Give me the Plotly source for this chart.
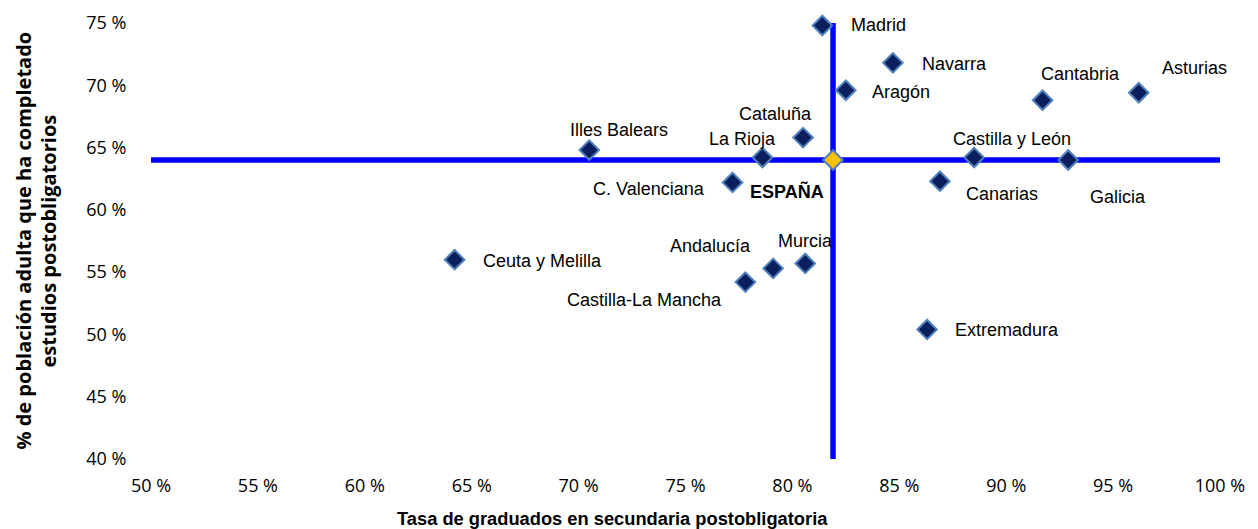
import plotly.graph_objects as go

# ---------------- data ----------------
REGIONS = ["Madrid", "Navarra", "Aragón", "Cantabria", "Asturias", "Cataluña",
           "Illes Balears", "La Rioja", "Castilla y León", "Galicia",
           "C. Valenciana", "Canarias", "Ceuta y Melilla", "Murcia",
           "Andalucía", "Castilla-La Mancha", "Extremadura"]
GRADUADOS = [81.4, 84.7, 82.5, 91.7, 96.2, 80.5, 70.5, 78.6, 88.5, 92.9,
             77.2, 86.9, 64.2, 80.6, 79.1, 77.8, 86.3]
POBLACION = [74.8, 71.8, 69.6, 68.8, 69.4, 65.8, 64.8, 64.2, 64.2, 64.0,
             62.2, 62.3, 56.0, 55.7, 55.3, 54.2, 50.4]
ESP_NAME = "ESPAÑA"
ESP_X = 81.9
ESP_Y = 64.0

X_TICKS = [50, 55, 60, 65, 70, 75, 80, 85, 90, 95, 100]
Y_TICKS = [40, 45, 50, 55, 60, 65, 70, 75]
X_TICKTEXT = [f"{v} %" for v in X_TICKS]
Y_TICKTEXT = [f"{v} %" for v in Y_TICKS]

X_TITLE = "Tasa de graduados en secundaria postobligatoria"
Y_TITLE_1 = "% de población adulta que ha completado"
Y_TITLE_2 = "estudios postobligatorios"

# label placement (anchor, x shift px, y shift px) -- styling only
LABEL_POS = {
    "Madrid": ("left", 27, 0),
    "Navarra": ("left", 27, -1),
    "Aragón": ("left", 24, -2),
    "Cantabria": ("center", 38, 26),
    "Asturias": ("center", 56, 25),
    "Cataluña": ("right", 11, 24),
    "Illes Balears": ("center", 30, 20),
    "La Rioja": ("right", 16, 19),
    "Castilla y León": ("center", 38, 19),
    "Galicia": ("left", 20, -37),
    "C. Valenciana": ("right", -26, -7),
    "Canarias": ("left", 24, -13),
    "Ceuta y Melilla": ("left", 26, -1),
    "Murcia": ("center", 0, 22),
    "Andalucía": ("right", -20, 22),
    "Castilla-La Mancha": ("right", -21, -18),
    "Extremadura": ("left", 26, -1),
    "ESPAÑA": ("right", -7, -31),
}

LABEL_FONT = "Liberation Sans, Arial, sans-serif"
TICK_FONT = "Open Sans, sans-serif"

fig = go.Figure()

# reference lines through the national value
fig.add_trace(go.Scatter(x=[ESP_X, ESP_X], y=[Y_TICKS[0], Y_TICKS[-1]], mode="lines",
                         line=dict(color="#0000FF", width=5.5), hoverinfo="skip",
                         cliponaxis=False, showlegend=False))
fig.add_trace(go.Scatter(x=[X_TICKS[0], X_TICKS[-1]], y=[ESP_Y, ESP_Y], mode="lines",
                         line=dict(color="#0000FF", width=5.5), hoverinfo="skip",
                         cliponaxis=False, showlegend=False))

fig.add_trace(go.Scatter(x=GRADUADOS, y=POBLACION, mode="markers", text=REGIONS,
                         marker=dict(symbol="diamond", size=15, color="#0A1F5C",
                                     line=dict(color="#4F81BD", width=2)),
                         cliponaxis=False, showlegend=False))
fig.add_trace(go.Scatter(x=[ESP_X], y=[ESP_Y], mode="markers", text=[ESP_NAME],
                         marker=dict(symbol="diamond", size=15, color="#FFC000",
                                     line=dict(color="#4F81BD", width=2)),
                         cliponaxis=False, showlegend=False))

annotations = []
for name, gx, py in zip(REGIONS + [ESP_NAME], GRADUADOS + [ESP_X], POBLACION + [ESP_Y]):
    anchor, dx, dy = LABEL_POS[name]
    txt = f"<b>{name}</b>" if name == ESP_NAME else name
    annotations.append(dict(x=gx, y=py, xref="x", yref="y", text=txt, showarrow=False,
                            xanchor=anchor, yanchor="middle", xshift=dx, yshift=dy,
                            font=dict(family=LABEL_FONT, size=18, color="#000000")))

annotations.append(dict(x=0.4313, y=-0.1376, xref="paper", yref="paper", text=f"<b>{X_TITLE}</b>",
                        showarrow=False, xanchor="center", yanchor="middle",
                        font=dict(family=LABEL_FONT, size=18.3, color="#000000")))
annotations.append(dict(x=-0.1202, y=0.5, xref="paper", yref="paper", text=f"<b>{Y_TITLE_1}</b>",
                        showarrow=False, xanchor="center", yanchor="middle", textangle=-90,
                        font=dict(family=TICK_FONT, size=20, color="#000000")))
annotations.append(dict(x=-0.0968, y=0.5, xref="paper", yref="paper", text=f"<b>{Y_TITLE_2}</b>",
                        showarrow=False, xanchor="center", yanchor="middle", textangle=-90,
                        font=dict(family=TICK_FONT, size=20, color="#000000")))

# page body adds an 8px margin, so the figure is 8px smaller and margins shifted
fig.update_layout(
    width=1250, height=521,
    margin=dict(l=143, r=38, t=15, b=70, autoexpand=False),
    paper_bgcolor="white", plot_bgcolor="white",
    annotations=annotations,
    xaxis=dict(range=[X_TICKS[0], X_TICKS[-1]], tickvals=X_TICKS, ticktext=X_TICKTEXT,
               showgrid=False, zeroline=False, showline=False, automargin=False,
               ticks="outside", ticklen=10, tickcolor="rgba(0,0,0,0)",
               tickfont=dict(family=TICK_FONT, size=18, color="#000000")),
    yaxis=dict(range=[Y_TICKS[0], Y_TICKS[-1]], tickvals=Y_TICKS, ticktext=Y_TICKTEXT,
               showgrid=False, zeroline=False, showline=False, automargin=False,
               ticks="outside", ticklen=20, tickcolor="rgba(0,0,0,0)",
               tickfont=dict(family=TICK_FONT, size=18, color="#000000")),
    hovermode="closest",
)

fig.write_html("out.html")
